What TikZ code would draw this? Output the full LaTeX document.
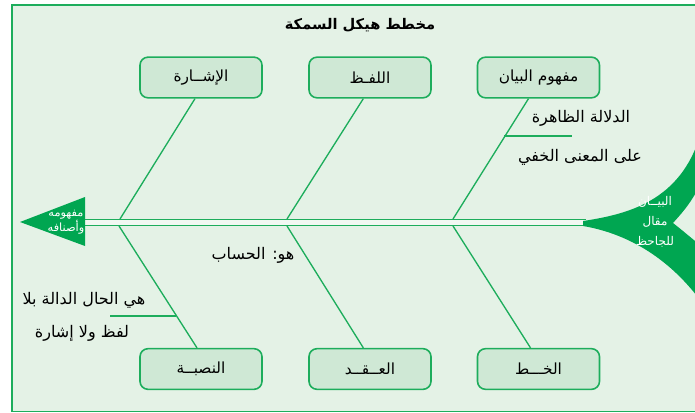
\documentclass[tikz,border=0pt]{standalone}
\usepackage{fontspec}
\usepackage{tikz}
\usetikzlibrary{positioning}
\newfontfamily\arabicfont[Script=Arabic]{DejaVu Sans}
\TeXXeTstate=1
\definecolor{fishgreen}{HTML}{00A651}
\definecolor{linegreen}{HTML}{1DAD5C}
\definecolor{bggreen}{HTML}{E4F2E6}
\definecolor{boxgreen}{HTML}{CFE8D5}
\newcommand{\artxt}[1]{{\arabicfont\beginR #1\endR}}

\begin{document}
\begin{tikzpicture}[x=0.75pt,y=-0.75pt]
\tikzstyle{every node}+=[inner sep=0pt]
\tikzstyle{box}=[draw=linegreen, line width=1.2pt, fill=boxgreen, rounded corners=6pt, minimum width=91.5pt, minimum height=30.5pt, font=\fontsize{11.5}{13}\selectfont]
\tikzstyle{bone}=[linegreen, line width=1pt]
\tikzstyle{note}=[font=\fontsize{12}{14}\selectfont]
\useasboundingbox (0,0) rectangle (695,413);
\draw [linegreen, line width=1.2pt, fill=bggreen] (12,5) rectangle (710,411.5);
\node (title) at (360,25) {\fontsize{11}{13}\selectfont\bfseries\artxt{مخطط هيكل السمكة}};
% spine, head and tail
\coordinate (spineL) at (84,222.5);
\coordinate (spineR) at (586,222.5);
\draw [linegreen, line width=1.1pt, double=white!50!bggreen, double distance=3.2pt] (spineL) -- (spineR);
\fill [fishgreen] (20,222) -- (85,197) -- (85,246) -- cycle;
\node [align=center, text=white, font=\fontsize{8.5}{10.5}\selectfont] (head) at (66,222) {\artxt{مفهومه}\\\artxt{وأصنافه}};
\fill [fishgreen] (583,221) .. controls (630,214) and (680,200) .. (700,136) -- (700,185)
  .. controls (690,205) and (680,215) .. (673,223) .. controls (682,230) and (690,237) .. (700,245)
  -- (700,300) .. controls (670,260) and (630,234) .. (583,226) -- cycle;
\node [align=center, text=white, font=\fontsize{9}{15}\selectfont] (tail) at (655,222) {\artxt{البيــان}\\\artxt{مقال}\\\artxt{للجاحظ}};
% boxes
\node [box] (isharah) at (201,77.5) {\artxt{الإشــارة}};
\node [box] (lafz) at (370,77.5) {\artxt{اللفـظ}};
\node [box] (mafhum) at (538.5,77.5) {\artxt{مفهوم البيان}};
\node [box] (nisbah) at (201,369) {\artxt{النصبــة}};
\node [box] (aqd) at (370,369) {\artxt{العــقــد}};
\node [box] (khatt) at (538.5,369) {\artxt{الخـــط}};
% bones
\coordinate (j1t) at (120,219);
\coordinate (j2t) at (287,219);
\coordinate (j3t) at (453,219);
\coordinate (j1b) at (119,226);
\coordinate (j2b) at (287,226);
\coordinate (j3b) at (453,226);
\draw [bone] ([xshift=-4.5pt]isharah.south) -- (j1t);
\draw [bone] ([xshift=-5pt]lafz.south) -- (j2t);
\draw [bone] ([xshift=-7.5pt]mafhum.south) -- (j3t);
\draw [bone] (j1b) -- ([xshift=-3pt]nisbah.north);
\draw [bone] (j2b) -- ([xshift=-5pt]aqd.north);
\draw [bone] (j3b) -- ([xshift=-6pt]khatt.north);
% notes
\node [note] (zahira) at (581,118) {\artxt{الدلالة الظاهرة}};
\node [note] (khafi) at (580,157) {\artxt{على المعنى الخفي}};
\coordinate (tick1a) at (504,136);
\coordinate (tick1b) at (572,136);
\draw [bone] (tick1a) -- (tick1b);
\node [note] (hisab) at (253,255) {\artxt{هو: الحساب}};
\node [note] (hal) at (84,300) {\artxt{هي الحال الدالة بلا}};
\node [note] (lafzwala) at (82,333) {\artxt{لفظ ولا إشارة}};
\coordinate (tick2a) at (176,316);
\coordinate (tick2b) at (110,316);
\draw [bone] (tick2a) -- (tick2b);
\end{tikzpicture}
\end{document}
